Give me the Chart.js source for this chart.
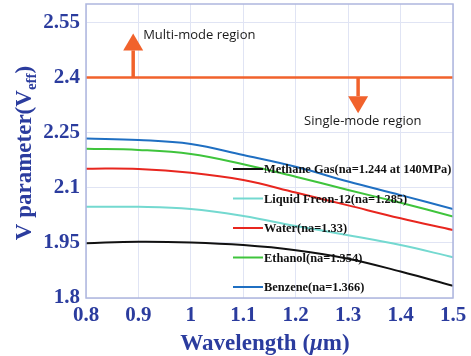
<!DOCTYPE html>
<html>
<head>
<meta charset="utf-8">
<script src="https://cdn.jsdelivr.net/npm/chart.js@4"></script>
<style>
    html, body { margin: 0; padding: 0; background: #fff; }
    #wrap { width: 471px; height: 356px; position: relative; }
</style>
</head>
<body>
<div id="wrap"><canvas id="vChart"></canvas></div>
<script>
// wavelength in um and V parameter for each analyte
const wavelength = [0.8, 0.9, 1.0, 1.1, 1.2, 1.3, 1.4, 1.5];
const methane = [1.949, 1.953, 1.951, 1.944, 1.930, 1.907, 1.872, 1.833];
const freon = [2.048, 2.048, 2.042, 2.023, 1.996, 1.971, 1.944, 1.911];
const water = [2.152, 2.151, 2.141, 2.121, 2.087, 2.052, 2.017, 1.985];
const ethanol = [2.206, 2.203, 2.192, 2.164, 2.130, 2.094, 2.059, 2.022];
const benzene = [2.234, 2.230, 2.219, 2.189, 2.157, 2.117, 2.080, 2.042];
const cutoff = 2.4;

const seriesNames = ['Methane Gas(na=1.244 at 140MPa)', 'Liquid Freon-12(na=1.285)', 'Water(na=1.33)', 'Ethanol(na=1.354)', 'Benzene(na=1.366)'];
const seriesColors = ['#111111', '#74d9d0', '#e8261f', '#3fc43c', '#1f6fc2'];
const xTicks = [0.8, 0.9, 1.0, 1.1, 1.2, 1.3, 1.4, 1.5];
const yTicks = [1.8, 1.95, 2.1, 2.25, 2.4, 2.55];

const axisBlue = '#2b3c9e';
const serif = '"Liberation Serif", "Times New Roman", serif';

function pts(ys) {
    return wavelength.map((x, i) => ({ x: x, y: ys[i] }));
}

const curveSets = [methane, freon, water, ethanol, benzene].map((ys, i) => ({
    label: seriesNames[i],
    data: pts(ys),
    borderColor: seriesColors[i],
    backgroundColor: seriesColors[i],
    borderWidth: 2,
    pointRadius: 0,
    tension: 0.4,
    fill: false
}));

// single-mode cutoff line
curveSets.push({
    label: 'cutoff',
    data: [{ x: wavelength[0], y: cutoff }, { x: wavelength[wavelength.length - 1], y: cutoff }],
    borderColor: '#f1622c',
    borderWidth: 2.5,
    pointRadius: 0,
    fill: false
});

function arrow(ctx, x, y0, y1) {
    // shaft from y0 to the head, head tip at y1
    const dir = y1 < y0 ? -1 : 1;
    const headLen = 17, headHalf = 10;
    ctx.strokeStyle = '#f1622c';
    ctx.fillStyle = '#f1622c';
    ctx.lineWidth = 3.5;
    ctx.beginPath();
    ctx.moveTo(x, y0);
    ctx.lineTo(x, y1 - dir * headLen);
    ctx.stroke();
    ctx.beginPath();
    ctx.moveTo(x, y1);
    ctx.lineTo(x - headHalf, y1 - dir * headLen);
    ctx.lineTo(x + headHalf, y1 - dir * headLen);
    ctx.closePath();
    ctx.fill();
}

const decorations = {
    id: 'decorations',
    afterDraw(chart) {
        const { ctx, chartArea: a, scales: { x, y } } = chart;
        ctx.save();

        // axes box
        ctx.strokeStyle = '#aeb6de';
        ctx.lineWidth = 1.5;
        ctx.strokeRect(a.left, a.top, a.right - a.left, a.bottom - a.top);

        // mode arrows and labels
        const yc = y.getPixelForValue(cutoff);
        arrow(ctx, x.getPixelForValue(0.89), yc, y.getPixelForValue(2.52));
        arrow(ctx, x.getPixelForValue(1.319), yc, y.getPixelForValue(2.303));
        ctx.fillStyle = '#1a1a1a';
        ctx.font = '13px "Open Sans", sans-serif';
        ctx.textBaseline = 'middle';
        ctx.textAlign = 'left';
        ctx.fillText('Multi-mode region', x.getPixelForValue(0.909), y.getPixelForValue(2.516));
        ctx.fillText('Single-mode region', x.getPixelForValue(1.216), y.getPixelForValue(2.282));

        // legend inside the plot, no frame
        ctx.font = 'bold 12.4px ' + serif;
        const lx = 233, ly = 169, step = 29.5;
        seriesNames.forEach((name, i) => {
            const yy = ly + i * step;
            ctx.strokeStyle = seriesColors[i];
            ctx.lineWidth = 2;
            ctx.beginPath();
            ctx.moveTo(lx, yy);
            ctx.lineTo(lx + 30, yy);
            ctx.stroke();
            ctx.fillStyle = '#111';
            ctx.fillText(name, lx + 31, yy + 1);
        });

        // y axis title with subscript
        ctx.fillStyle = axisBlue;
        ctx.textBaseline = 'alphabetic';
        ctx.translate(31, 153);
        ctx.rotate(-Math.PI / 2);
        const big = 'bold 23px ' + serif, small = 'bold 15px ' + serif;
        ctx.font = big;
        const wMain = ctx.measureText('V parameter(V').width;
        const wClose = ctx.measureText(')').width;
        ctx.font = small;
        const wSub = ctx.measureText('eff').width;
        let cx = -(wMain + wSub + wClose) / 2;
        ctx.textAlign = 'left';
        ctx.font = big;
        ctx.fillText('V parameter(V', cx, 0);
        cx += wMain;
        ctx.font = small;
        ctx.fillText('eff', cx, 5);
        cx += wSub;
        ctx.font = big;
        ctx.fillText(')', cx, 0);
        ctx.setTransform(1, 0, 0, 1, 0, 0);

        // x axis title, mu in italics
        ctx.fillStyle = axisBlue;
        const p1 = 'Wavelength (', p3 = 'm)';
        ctx.font = 'bold italic 23px ' + serif;
        const wMu = ctx.measureText('\u03bc').width;
        ctx.font = big;
        const w1 = ctx.measureText(p1).width, w3 = ctx.measureText(p3).width;
        let tx = 265 - (w1 + wMu + w3) / 2;
        const ty = 350;
        ctx.fillText(p1, tx, ty);
        tx += w1;
        ctx.font = 'bold italic 23px ' + serif;
        ctx.fillText('\u03bc', tx, ty);
        tx += wMu;
        ctx.font = big;
        ctx.fillText(p3, tx, ty);

        ctx.restore();
    }
};

new Chart(document.getElementById('vChart'), {
    type: 'line',
    data: { datasets: curveSets },
    options: {
        responsive: true,
        maintainAspectRatio: false,
        animation: false,
        layout: { padding: { top: 4, right: 18, left: 0, bottom: 0 } },
        plugins: { legend: { display: false }, tooltip: { enabled: false } },
        scales: {
            x: {
                type: 'linear',
                min: 0.8,
                max: 1.5,
                afterBuildTicks: s => { s.ticks = xTicks.map(v => ({ value: v })); },
                afterFit: s => { s.height = 58; s.paddingLeft = 0; s.paddingRight = 0; },
                grid: { color: '#e0e4f4', drawTicks: false },
                border: { display: false },
                ticks: {
                    color: axisBlue,
                    padding: 5,
                    font: { family: serif, size: 21, weight: 'bold' },
                    callback: v => String(+v.toFixed(1))
                }
            },
            y: {
                min: 1.8,
                max: 2.6,
                afterBuildTicks: s => { s.ticks = yTicks.map(v => ({ value: v })); },
                afterFit: s => { s.width = 86; s.paddingTop = 0; s.paddingBottom = 0; },
                grid: { color: '#e0e4f4', drawTicks: false },
                border: { display: false },
                ticks: {
                    color: axisBlue,
                    padding: 6,
                    font: { family: serif, size: 21, weight: 'bold' },
                    callback: v => String(+v.toFixed(2))
                }
            }
        }
    },
    plugins: [decorations]
});
</script>
</body>
</html>
